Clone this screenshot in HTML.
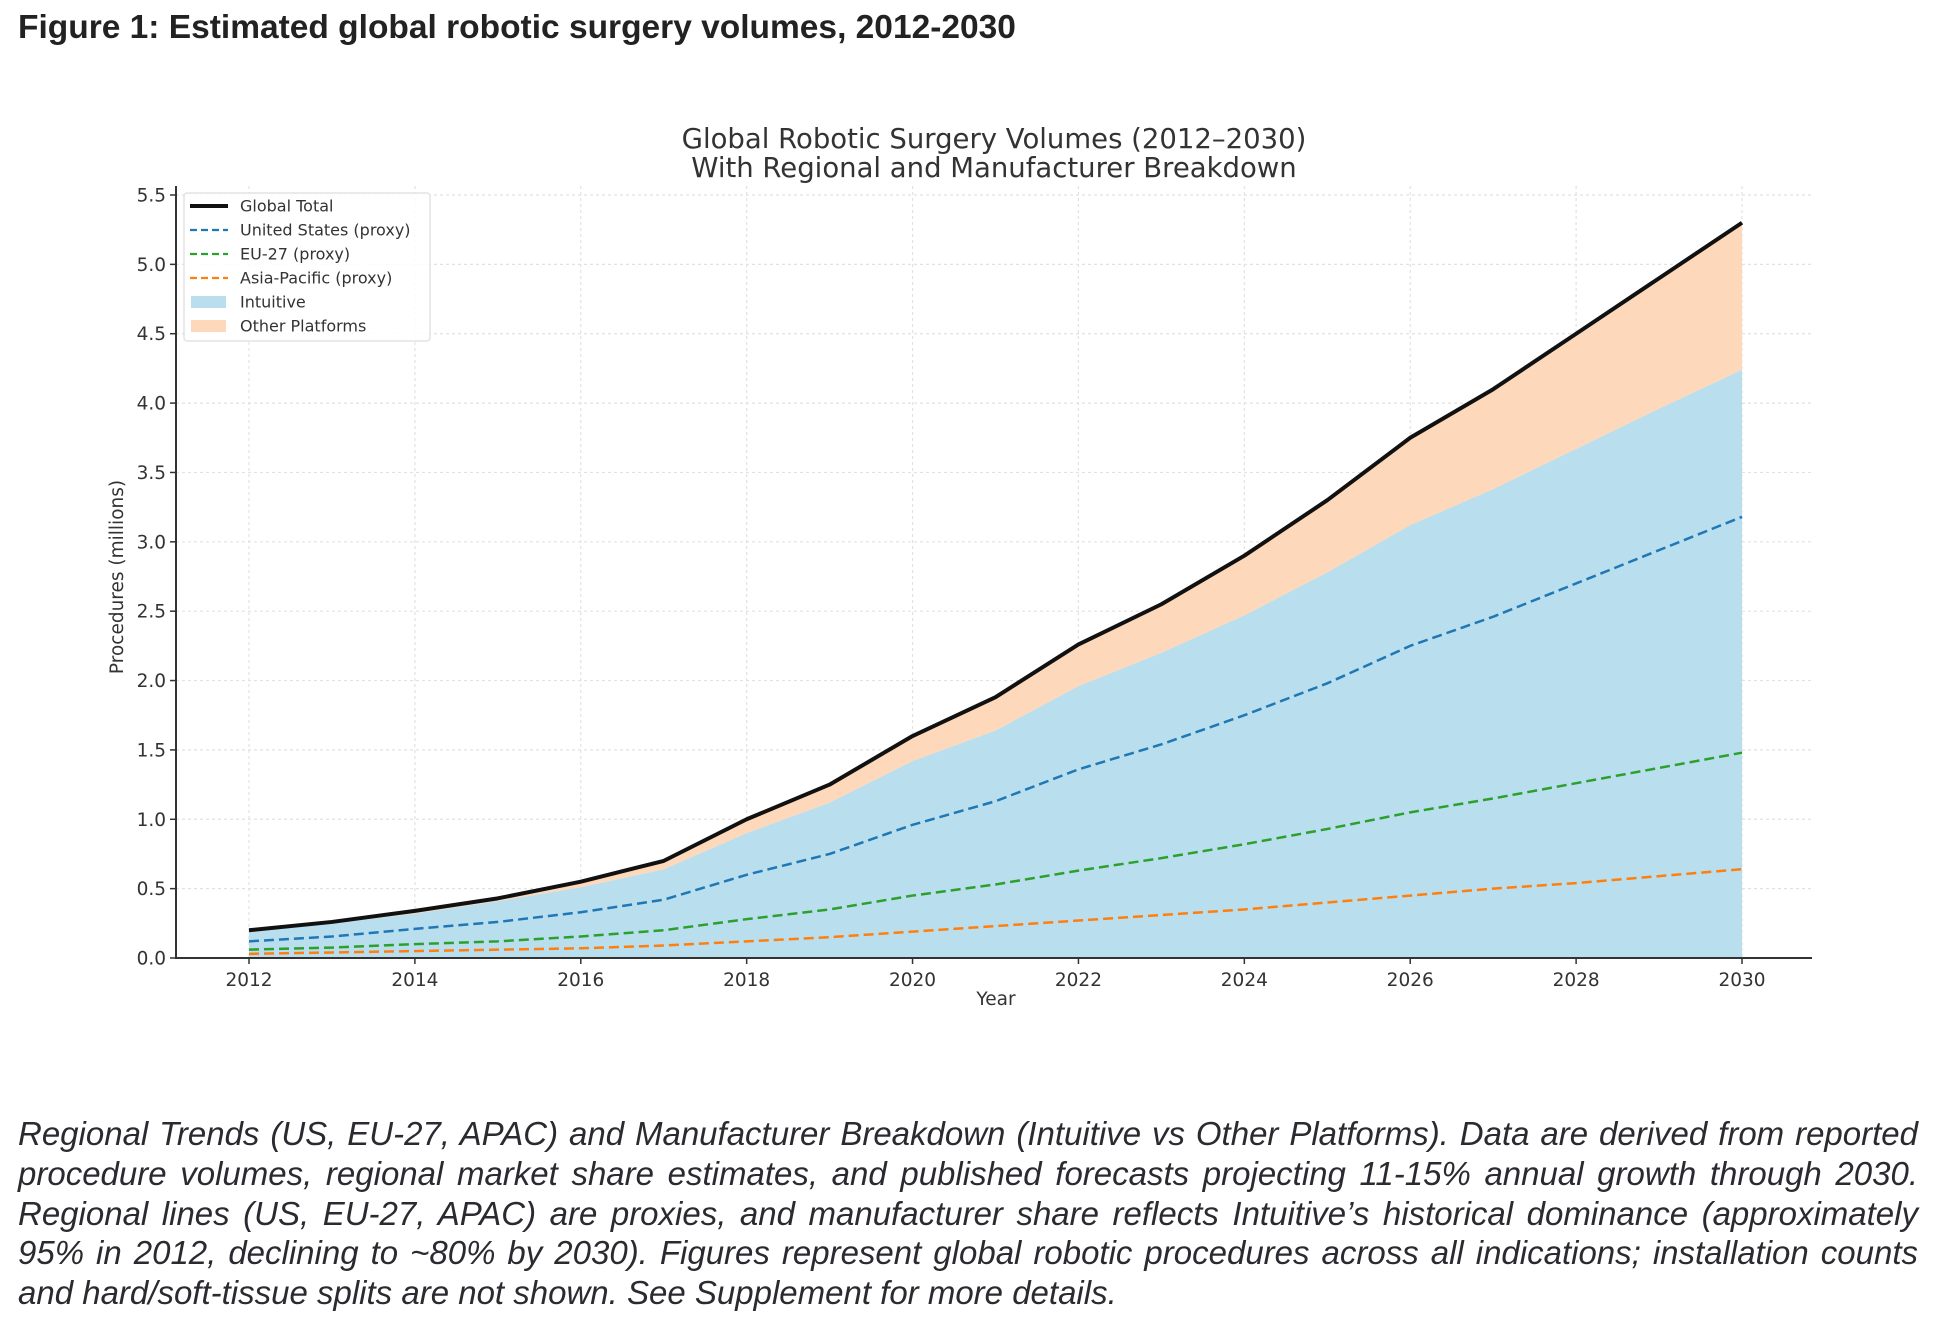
<!DOCTYPE html>
<html><head><meta charset="utf-8">
<style>
html,body{margin:0;padding:0;background:#fff;}
body{width:1934px;height:1328px;position:relative;overflow:hidden;}
#heading{position:absolute;left:18px;top:9px;font:bold 33.5px "Liberation Sans",sans-serif;color:#222;white-space:nowrap;}
#caption{position:absolute;left:18px;top:1114px;width:1900px;font:italic 33px/39.8px "Liberation Sans",sans-serif;color:#2a2a30;text-align:justify;}
svg{position:absolute;left:0;top:0;}
text{font-family:"DejaVu Sans",sans-serif;}
</style></head><body>
<div id="heading">Figure 1: Estimated global robotic surgery volumes, 2012-2030</div>
<svg id="chart" width="1934" height="1328"></svg>
<div id="caption">Regional Trends (US, EU-27, APAC) and Manufacturer Breakdown (Intuitive vs Other Platforms). Data are derived from reported procedure volumes, regional market share estimates, and published forecasts projecting 11-15% annual growth through 2030. Regional lines (US, EU-27, APAC) are proxies, and manufacturer share reflects Intuitive’s historical dominance (approximately 95% in 2012, declining to ~80% by 2030). Figures represent global robotic procedures across all indications; installation counts and hard/soft-tissue splits are not shown. See Supplement for more details.</div>
<script>
const years = [2012,2013,2014,2015,2016,2017,2018,2019,2020,2021,2022,2023,2024,2025,2026,2027,2028,2029,2030];
const globalTotal = [0.20,0.26,0.34,0.43,0.55,0.70,1.00,1.25,1.60,1.88,2.26,2.55,2.90,3.30,3.75,4.10,4.50,4.90,5.30];
const intuitive = [0.19,0.25,0.32,0.41,0.51,0.64,0.90,1.12,1.42,1.64,1.96,2.20,2.47,2.78,3.12,3.38,3.67,3.96,4.24];
const usProxy = [0.12,0.155,0.21,0.26,0.33,0.42,0.60,0.75,0.96,1.13,1.36,1.54,1.75,1.98,2.25,2.46,2.70,2.94,3.18];
const euProxy = [0.06,0.075,0.10,0.12,0.155,0.20,0.28,0.35,0.45,0.53,0.63,0.72,0.82,0.93,1.05,1.15,1.26,1.37,1.48];
const apacProxy = [0.03,0.04,0.05,0.06,0.07,0.09,0.12,0.15,0.19,0.23,0.27,0.31,0.35,0.40,0.45,0.50,0.54,0.59,0.64];
const yTicks = [0,0.5,1,1.5,2,2.5,3,3.5,4,4.5,5,5.5];
const xTicks = [2012,2014,2016,2018,2020,2022,2024,2026,2028,2030];

(function(){
const NS='http://www.w3.org/2000/svg';
const svg=document.getElementById('chart');
const X0=176,X1=1812,Y0=958;
const xs=y=>249+(y-2012)*(1742-249)/18;
const ys=v=>Y0-v*(Y0-195)/5.5;
function mk(tag,attrs,parent){const e=document.createElementNS(NS,tag);for(const k in attrs)e.setAttribute(k,attrs[k]);(parent||svg).appendChild(e);return e;}
const fmt=v=>v.toFixed(1);

yTicks.forEach(t=>{const g=mk('line',{x1:X0,x2:X1,y1:ys(t),y2:ys(t),stroke:'#e2e2e2','stroke-width':1.2,'stroke-dasharray':'3,3'});

});
xTicks.forEach(t=>{const g=mk('line',{x1:xs(t),x2:xs(t),y1:186,y2:Y0,stroke:'#e2e2e2','stroke-width':1.2,'stroke-dasharray':'3,3'});

});

const topI=years.map((y,i)=>xs(y)+','+ys(intuitive[i])).join(' ');
const aI=mk('polygon',{points:xs(years[0])+','+Y0+' '+topI+' '+xs(years[years.length-1])+','+Y0,fill:'#b9deee'});


const topG=years.map((y,i)=>xs(y)+','+ys(globalTotal[i])).join(' ');
const botI=years.map((y,i)=>xs(y)+','+ys(intuitive[i])).reverse().join(' ');
const aO=mk('polygon',{points:topG+' '+botI,fill:'#fdd8ba'});



function line(arr,color,w,dash,name){const p=mk('polyline',{points:years.map((y,i)=>xs(y)+','+ys(arr[i])).join(' '),fill:'none',stroke:color,'stroke-width':w,'stroke-linejoin':'round'});
if(dash)p.setAttribute('stroke-dasharray',dash);

}
line(apacProxy,'#ff7f0e',2.5,'10,5','asia-pacific-line');
line(euProxy,'#2ca02c',2.5,'10,5','eu27-line');
line(usProxy,'#1f77b4',2.5,'10,5','us-line');
line(globalTotal,'#111',4,null,'global-total-line');

const ax=mk('line',{x1:X0,x2:X0,y1:186,y2:Y0+1,stroke:'#333','stroke-width':2});


const bx=mk('line',{x1:X0-1,x2:X1,y1:Y0,y2:Y0,stroke:'#333','stroke-width':2});


yTicks.forEach(t=>{mk('line',{x1:X0-6,x2:X0,y1:ys(t),y2:ys(t),stroke:'#333','stroke-width':1.5});
const tx=mk('text',{x:X0-10,y:ys(t)+6.5,'text-anchor':'end','font-size':18.5,fill:'#333'});tx.textContent=fmt(t);

});
xTicks.forEach(t=>{mk('line',{x1:xs(t),x2:xs(t),y1:Y0,y2:Y0+6,stroke:'#333','stroke-width':1.5});
const tx=mk('text',{x:xs(t),y:Y0+28,'text-anchor':'middle','font-size':18.5,fill:'#333'});tx.textContent=t;

});

const xl=mk('text',{x:996,y:1005,'text-anchor':'middle','font-size':18.5,fill:'#333'});xl.textContent='Year';


const yl=mk('text',{x:0,y:0,'text-anchor':'middle','font-size':18.5,fill:'#333',transform:'translate(123,577) rotate(-90)'});yl.textContent='Procedures (millions)';


const t1=mk('text',{x:994,y:148,'text-anchor':'middle','font-size':27.5,fill:'#333'});t1.textContent='Global Robotic Surgery Volumes (2012–2030)';


const t2=mk('text',{x:994,y:177,'text-anchor':'middle','font-size':27.5,fill:'#333'});t2.textContent='With Regional and Manufacturer Breakdown';



const lg=mk('g',{});


mk('rect',{x:184,y:193,width:246,height:148,rx:3,fill:'#fff','fill-opacity':0.85,stroke:'#ddd','stroke-width':1.2},lg);
const labels=['Global Total','United States (proxy)','EU-27 (proxy)','Asia-Pacific (proxy)','Intuitive','Other Platforms'];
const kinds=[['line','#111',4,null],['line','#1f77b4',2.2,'7,4'],['line','#2ca02c',2.2,'7,4'],['line','#ff7f0e',2.2,'7,4'],['rect','#b9deee'],['rect','#fdd8ba']];
labels.forEach((l,i)=>{const y=206+i*24;const k=kinds[i];
if(k[0]==='line'){const s=mk('line',{x1:190,x2:228,y1:y,y2:y,stroke:k[1],'stroke-width':k[2]},lg);if(k[3])s.setAttribute('stroke-dasharray',k[3]);}
else mk('rect',{x:191,y:y-6,width:35,height:12,fill:k[1]},lg);
const tx=mk('text',{x:240,y:y+5.5,'font-size':16,fill:'#333'},lg);tx.textContent=l;

});
})();
</script>
</body></html>
